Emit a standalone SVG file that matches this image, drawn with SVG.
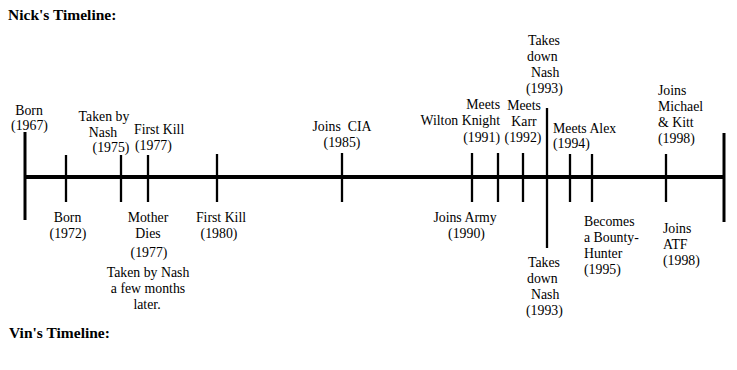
<svg xmlns="http://www.w3.org/2000/svg" width="737" height="370" viewBox="0 0 737 370">
<style>
text{font-family:"Liberation Serif","Times New Roman",serif;font-size:13.8px;fill:#000}
.t{font-size:15.5px;font-weight:bold}
.m{text-anchor:middle}
.e{text-anchor:end}
.pre{white-space:pre}
.ax{stroke:#000;stroke-width:4;fill:none}
.end{stroke:#000;stroke-width:3;fill:none}
.tk{stroke:#000;stroke-width:2.3;fill:none}
</style>
<rect width="737" height="370" fill="#fff"/>
<g id="title-nick"><text class="t" x="8" y="20">Nick's Timeline:</text></g>
<g id="title-vin"><text class="t" x="9" y="338">Vin's Timeline:</text></g>
<g id="connectors">
<line class="ax" x1="25" y1="177" x2="725" y2="177"/>
<line class="end" x1="25" y1="132" x2="25" y2="220"/>
<line class="end" x1="724" y1="133" x2="724" y2="222"/>
<line class="tk" x1="66" y1="155" x2="66" y2="202"/>
<line class="tk" x1="121" y1="155" x2="121" y2="202"/>
<line class="tk" x1="148" y1="155" x2="148" y2="202"/>
<line class="tk" x1="217" y1="154" x2="217" y2="202"/>
<line class="tk" x1="342" y1="153" x2="342" y2="202"/>
<line class="tk" x1="472" y1="153" x2="472" y2="202"/>
<line class="tk" x1="498" y1="153" x2="498" y2="202"/>
<line class="tk" x1="523" y1="153" x2="523" y2="202"/>
<line class="tk" x1="547" y1="108" x2="547" y2="248"/>
<line class="tk" x1="570" y1="154" x2="570" y2="202"/>
<line class="tk" x1="592" y1="154" x2="592" y2="202"/>
<line class="tk" x1="666" y1="154" x2="666" y2="202"/>
</g>
<g id="nick-born"><text class="m" x="29" y="115">Born</text><text class="m" x="29.5" y="130">(1967)</text></g>
<g id="nick-taken"><text class="m" x="104" y="121">Taken by</text><text class="m" x="103" y="137">Nash</text><text class="m" x="111" y="152">(1975)</text></g>
<g id="nick-firstkill"><text x="134" y="134">First Kill</text><text x="135" y="150">(1977)</text></g>
<g id="nick-cia"><text class="m pre" x="342" y="131" xml:space="preserve">Joins  CIA</text><text class="m" x="342" y="147">(1985)</text></g>
<g id="nick-wilton"><text class="e" x="500" y="109">Meets</text><text class="e" x="500" y="125">Wilton Knight</text><text class="e" x="500" y="142">(1991)</text></g>
<g id="nick-karr"><text class="m" x="524" y="110">Meets</text><text class="m" x="524" y="126">Karr</text><text class="m" x="523" y="142">(1992)</text></g>
<g id="nick-nash"><text x="528" y="45">Takes</text><text x="527" y="61">down</text><text x="531" y="77">Nash</text><text x="526" y="93">(1993)</text></g>
<g id="nick-alex"><text x="553" y="133">Meets Alex</text><text x="553" y="148">(1994)</text></g>
<g id="nick-michael"><text x="658" y="95">Joins</text><text x="658" y="111">Michael</text><text x="658" y="127">&amp; Kitt</text><text x="658" y="143">(1998)</text></g>
<g id="vin-born"><text class="m" x="67.5" y="222">Born</text><text class="m" x="68" y="238">(1972)</text></g>
<g id="vin-mother"><text class="m" x="148" y="222">Mother</text><text class="m" x="148" y="238">Dies</text><text class="m" x="149" y="257">(1977)</text><text class="m" x="148" y="277">Taken by Nash</text><text class="m" x="148" y="293">a few months</text><text class="m" x="147" y="309">later.</text></g>
<g id="vin-firstkill"><text class="m" x="221" y="222">First Kill</text><text class="m" x="219" y="238">(1980)</text></g>
<g id="vin-army"><text class="m" x="465" y="222">Joins Army</text><text class="m" x="466.5" y="238">(1990)</text></g>
<g id="vin-nash"><text x="528" y="267">Takes</text><text x="527" y="283">down</text><text x="531" y="299">Nash</text><text x="526" y="315">(1993)</text></g>
<g id="vin-bounty"><text x="584" y="226">Becomes</text><text x="584" y="242">a Bounty-</text><text x="584" y="258">Hunter</text><text x="584" y="274">(1995)</text></g>
<g id="vin-atf"><text x="663" y="233">Joins</text><text x="663" y="249">ATF</text><text x="663" y="265">(1998)</text></g>
</svg>
